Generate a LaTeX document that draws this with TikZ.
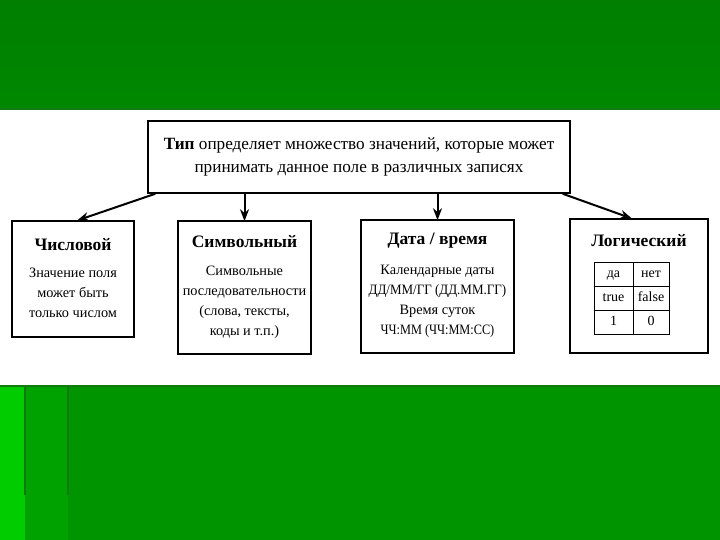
\documentclass[tikz,border=0pt]{standalone}
\usepackage{fontspec}
\setmainfont{Liberation Serif}
\usetikzlibrary{positioning,arrows.meta}
\definecolor{slidetop}{HTML}{007F00}
\definecolor{slidetoplow}{HTML}{008800}
\definecolor{slidebot}{HTML}{009400}
\definecolor{stripa}{HTML}{00CC00}
\definecolor{stripb}{HTML}{00A200}
\definecolor{stripline}{HTML}{127A12}

\tikzset{
  typebox/.style={draw=black, line width=1.6pt, fill=white, inner sep=0pt},
  typetitle/.style={font=\fontsize{17.5}{20}\selectfont\bfseries, inner sep=0pt},
  typetext/.style={font=\fontsize{14.3}{20}\selectfont, align=center, inner sep=0pt},
  cell/.style={font=\fontsize{14}{16}\selectfont, inner sep=0pt, text height=9pt, text depth=2pt},
  conn/.style={-{Stealth[length=12pt,width=9pt]}, line width=2pt, black, shorten >=-1pt}
}

\begin{document}
\begin{tikzpicture}[x=1pt, y=-1pt]
  % slide background
  \useasboundingbox (0,0) rectangle (720,540);
  \fill[white] (0,0) rectangle (720,540);
  \shade[top color=slidetop, bottom color=slidetoplow] (0,0) rectangle (720,108);
  \fill[stripline] (0,108) rectangle (720,110);
  \fill[slidebot] (0,385) rectangle (720,540);
  \fill[stripa] (0,385) rectangle (25,540);
  \fill[stripb] (25,385) rectangle (68,540);
  \fill[stripline] (0,385) rectangle (720,387);
  \foreach \sx in {25,68}
    \fill[stripline] (\sx-1,385) rectangle (\sx+1,495);

  % top box
  \node[typebox, minimum width=422pt, minimum height=72pt] (top) at (359,157) {};
  \node[typetext, font=\fontsize{17.2}{23}\selectfont] (toptext) at (top.center)
    {\textbf{Тип} определяет множество значений, которые может\\
     принимать данное поле в различных записях};

  % type boxes
  \node[typebox, minimum width=122pt, minimum height=116pt] (numbox) at (73,279) {};
  \node[typebox, minimum width=133pt, minimum height=133pt] (symbox) at (244.5,287.5) {};
  \node[typebox, minimum width=153pt, minimum height=133pt] (datebox) at (437.5,286.5) {};
  \node[typebox, minimum width=138pt, minimum height=134pt] (logbox) at (639,286) {};

  % titles
  \node[typetitle, below=18pt of numbox.north] (numtitle) {Числовой};
  \node[typetitle, below=15pt of symbox.north] (symtitle) {Символьный};
  \node[typetitle, below=14pt of datebox.north] (datetitle) {Дата / время};
  \node[typetitle, below=16pt of logbox.north] (logtitle) {Логический};

  % descriptions
  \node[typetext, below=17pt of numtitle] (numtext)
    {Значение поля\\может быть\\только числом};
  \node[typetext, below=18pt of symtitle] (symtext)
    {Символьные\\последовательности\\(слова, тексты,\\коды и т.п.)};
  \node[typetext, below=16pt of datetitle] (datetext)
    {Календарные даты\\\scalebox{0.91}[1]{ДД/ММ/ГГ (ДД.ММ.ГГ)}\\Время суток\\\scalebox{0.86}[1]{ЧЧ:ММ (ЧЧ:ММ:СС)}};

  % truth table
  \def\tl{594} \def\tr{669} \def\tm{633}
  \def\tt{262} \def\rh{24}
  \draw[line width=0.9pt] (\tl,\tt) rectangle (\tr,\tt+3*\rh);
  \draw[line width=0.9pt] (\tm,\tt) -- (\tm,\tt+3*\rh);
  \foreach \r in {1,2}
    \draw[line width=0.9pt] (\tl,\tt+\r*\rh) -- (\tr,\tt+\r*\rh);
  \foreach \a/\b/\r in {да/нет/0, true/false/1, 1/0/2}{
    \node[cell] (cella\r) at ({(\tl+\tm)/2},\tt+\r*\rh+\rh/2) {\a};
    \node[cell] (cellb\r) at ({(\tm+\tr)/2},\tt+\r*\rh+\rh/2) {\b};
  }

  % connectors
  \coordinate (outl) at ([xshift=8pt]top.south west);
  \coordinate (outr) at ([xshift=-8pt]top.south east);
  \draw[conn] (outl) -- ([xshift=5pt]numbox.north);
  \draw[conn] (top.south -| symbox.north) -- (symbox.north);
  \draw[conn] (top.south -| datebox.north) -- (datebox.north);
  \draw[conn] (outr) -- ([xshift=-8pt]logbox.north);
\end{tikzpicture}
\end{document}
